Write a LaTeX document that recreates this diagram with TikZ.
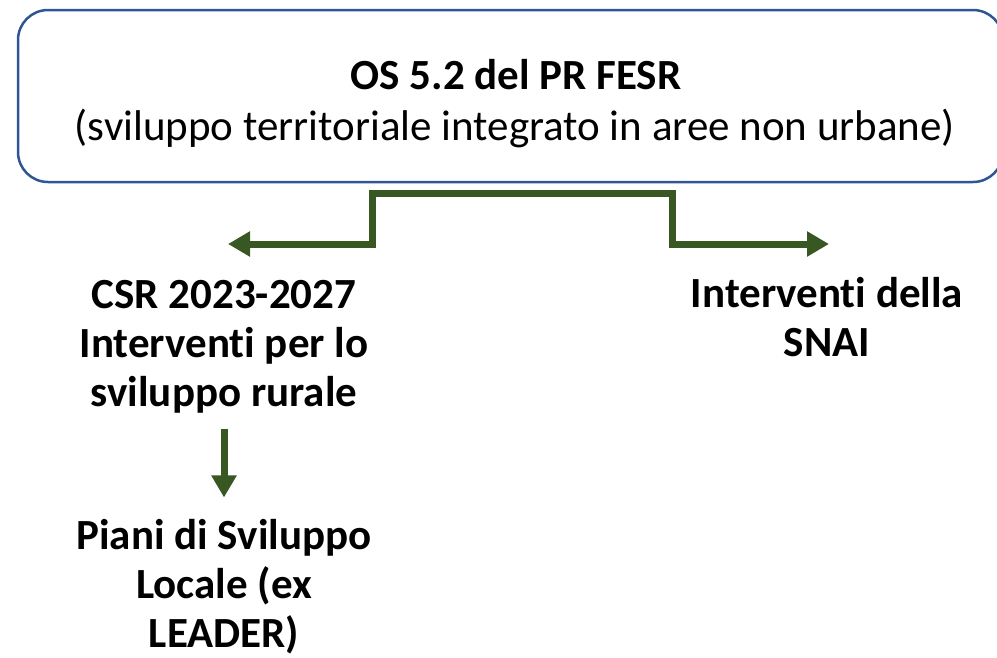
\documentclass[tikz,border=0pt]{standalone}
\usepackage{fontspec}
\setmainfont{Carlito}[RawFeature={-liga;-clig;-calt;-dlig;-rlig}]
\usepackage{tikz}
\usetikzlibrary{arrows.meta}
\definecolor{boxblue}{HTML}{2F5597}
\definecolor{darkgreen}{HTML}{385723}
\tikzstyle{osbox}=[draw=boxblue, line width=2.5pt, rounded corners=30pt, minimum width=985pt, minimum height=172pt]
\tikzstyle{lbl}=[align=center, inner sep=0pt, font=\fontsize{43}{49}\selectfont\bfseries]
\tikzstyle{grn}=[draw=darkgreen, line width=7pt, -{Triangle[length=22pt,width=24pt]}]

\begin{document}
\begin{tikzpicture}[x=1pt,y=-1pt]
    \useasboundingbox (0,0) rectangle (997,657);
    \node[osbox] (os) at (510.5,96) {};
    \node[font=\fontsize{43}{49}\selectfont\bfseries] (ostitle) at (516,75) {OS 5.2 del PR FESR};
    \node[font=\fontsize{43}{49}\selectfont] (ossub) at (515,128) {(sviluppo territoriale integrato in aree non urbane)};
    \node[lbl] (csr) at (224,347) {CSR 2023-2027\\Intervent\kern0pt i per lo\\sviluppo rurale};
    \node[lbl] (snai) at (827,317) {Intervent\kern0pt i della\\SNAI};
    \node[lbl] (piani) at (224,587) {Piani di Sviluppo\\Locale (ex\\LEADER)};
    \coordinate (mid) at (520,193);
    \coordinate (lend) at (228,244);
    \coordinate (rend) at (829,244);
    \draw[grn] (mid) -| (372,244) -- (lend);
    \draw[grn] (mid) -| (672,244) -- (rend);
    \draw[grn, shorten <=15pt, shorten >=22pt] (csr.south) -- (piani.north);
\end{tikzpicture}
\end{document}
